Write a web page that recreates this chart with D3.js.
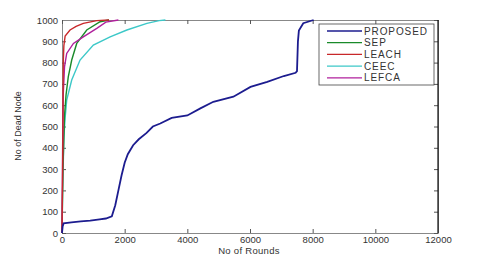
<!DOCTYPE html>
<html>
<head>
<meta charset="utf-8">
<script src="https://d3js.org/d3.v7.min.js"></script>
<style>
body { margin: 0; background: #fff; font-family: 'Liberation Sans', Arial, sans-serif; }
svg text { fill: #333; }
</style>
</head>
<body>
<div id="chart"></div>
<script>
// series: [round, dead nodes]
var proposed = [[0,0],[20,30],[50,45],[300,50],[600,55],[900,58],[1200,64],[1400,68],[1590,78],[1700,130],[1800,200],[1900,270],[2000,330],[2100,370],[2270,412],[2450,440],[2700,470],[2900,500],[3136,514],[3500,540],[4000,552],[4416,585],[4830,616],[5470,640],[6016,686],[6550,710],[7080,737],[7456,752],[7500,760],[7530,900],[7560,950],[7700,985],[8030,1000]];
var sep = [[0,0],[30,300],[80,550],[130,650],[200,733],[310,812],[470,890],[790,953],[1216,992],[1500,1000]];
var leach = [[0,0],[20,300],[40,800],[60,880],[100,925],[256,953],[450,970],[680,984],[1110,997],[1500,1000]];
var ceec = [[0,0],[20,200],[60,450],[100,540],[150,624],[310,718],[576,812],[1000,882],[1536,921],[2070,953],[2710,984],[3100,997],[3300,1000]];
var lefca = [[0,0],[20,400],[40,650],[80,780],[150,843],[365,890],[680,921],[1110,961],[1400,990],[1800,1000]];

var names = ["PROPOSED", "SEP", "LEACH", "CEEC", "LEFCA"];
var seriesData = [proposed, sep, leach, ceec, lefca];
var colors = ["#1c1c8f", "#1a8a2a", "#c8282a", "#3cc8c8", "#b0209c"];

var xTicks = [0, 2000, 4000, 6000, 8000, 10000, 12000];
var yTicks = [0, 100, 200, 300, 400, 500, 600, 700, 800, 900, 1000];

var width = 484, height = 261;
var padL = 62, padR = 438, padT = 20, padB = 233;

var svg = d3.select("#chart").append("svg")
  .attr("width", width).attr("height", height);

var x = d3.scaleLinear().domain([0, 12000]).range([padL, padR]);
var y = d3.scaleLinear().domain([0, 1000]).range([padB, padT]);

// axes, matlab style ticks inside
var xAxis = d3.axisBottom(x).tickValues(xTicks).tickSize(-4).tickSizeOuter(0).tickPadding(3).tickFormat(d3.format("d"));
svg.append("g").attr("transform", "translate(0," + padB + ")").call(xAxis);
var yAxis = d3.axisLeft(y).tickValues(yTicks).tickSize(-4).tickSizeOuter(0).tickPadding(4).tickFormat(d3.format("d"));
svg.append("g").attr("transform", "translate(" + padL + ",0)").call(yAxis);

svg.append("g").attr("transform", "translate(0," + padT + ")")
  .call(d3.axisTop(x).tickValues(xTicks).tickSize(-4).tickSizeOuter(0).tickFormat(""));
svg.append("g").attr("transform", "translate(" + padR + ",0)")
  .call(d3.axisRight(y).tickValues(yTicks).tickSize(-4).tickSizeOuter(0).tickFormat(""));

svg.selectAll(".domain").attr("stroke", "#888");
svg.selectAll(".tick line").attr("stroke", "#555");
svg.selectAll(".tick text").attr("font-size", 9.5).attr("font-family", "'Liberation Sans', Arial, sans-serif").attr("fill", "#333");

// right border is darker in the picture
svg.append("line").attr("x1", padR).attr("x2", padR).attr("y1", padT).attr("y2", padB)
  .attr("stroke", "#111").attr("stroke-width", 1.2);

var line = d3.line().x(function(d) { return x(d[0]); }).y(function(d) { return y(d[1]); });

// fast curves under, proposed on top
[3, 1, 4, 2, 0].forEach(function(i) {
  svg.append("path").datum(seriesData[i])
    .attr("d", line)
    .attr("fill", "none")
    .attr("stroke", colors[i])
    .attr("stroke-width", i == 0 ? 1.8 : 1.4);
});

// legend
var lg = svg.append("g").attr("transform", "translate(319,24)");
lg.append("rect").attr("width", 115).attr("height", 61)
  .attr("fill", "#fff").attr("stroke", "#444").attr("stroke-width", 0.8);
names.forEach(function(n, i) {
  var yy = 7 + i * 11.7;
  lg.append("line").attr("x1", 8).attr("x2", 43).attr("y1", yy).attr("y2", yy)
    .attr("stroke", colors[i]).attr("stroke-width", 1.3);
  lg.append("text").attr("x", 45).attr("y", yy + 3.6)
    .attr("font-size", 10).attr("letter-spacing", 0.9).text(n);
});

// axis labels
svg.append("text").attr("x", 249).attr("y", 254).attr("text-anchor", "middle")
  .attr("font-size", 9.5).attr("letter-spacing", 0.3).text("No of Rounds");
svg.append("text").attr("transform", "translate(21,126) rotate(-90)")
  .attr("text-anchor", "middle").attr("font-size", 9).text("No of Dead Node");
</script>
</body>
</html>
